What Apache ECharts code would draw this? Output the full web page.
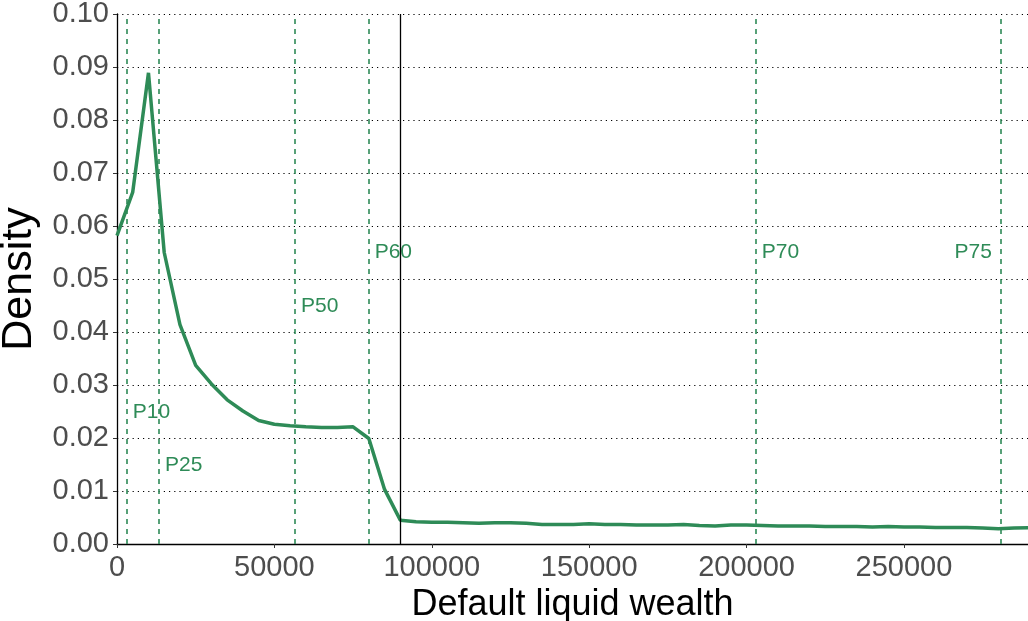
<!DOCTYPE html>
<html>
<head>
<meta charset="utf-8">
<script src="https://cdn.jsdelivr.net/npm/echarts@6/dist/echarts.min.js"></script>
<style>
    html, body { margin: 0; padding: 0; background: #fff; }
    #chart { width: 1028px; height: 621px; }
</style>
</head>
<body>
<div id="chart"></div>
<script>
const lineColor = '#2e8b57';

// density curve
const wealth = [
    0, 5000, 10000, 15000, 20000, 25000, 30000, 35000, 40000, 45000,
    50000, 55000, 60000, 65000, 70000, 75000, 80000, 85000, 90000, 95000,
    100000, 105000, 110000, 115000, 120000, 125000, 130000, 135000, 140000, 145000,
    150000, 155000, 160000, 165000, 170000, 175000, 180000, 185000, 190000, 195000,
    200000, 205000, 210000, 215000, 220000, 225000, 230000, 235000, 240000, 245000,
    250000, 255000, 260000, 265000, 270000, 275000, 280000, 285000, 290000
];
const density = [
    0.0582, 0.0664, 0.0889, 0.0550, 0.0414, 0.0337, 0.0302, 0.0272, 0.0251, 0.0233,
    0.0226, 0.0223, 0.0221, 0.0220, 0.0220, 0.0221, 0.0199, 0.0103, 0.0045, 0.0042,
    0.0041, 0.0041, 0.0040, 0.0039, 0.0040, 0.0040, 0.0039, 0.0037, 0.0037, 0.0037,
    0.0038, 0.0037, 0.0037, 0.0036, 0.0036, 0.0036, 0.0037, 0.0035, 0.0034, 0.0036,
    0.0036, 0.0035, 0.0034, 0.0034, 0.0034, 0.0033, 0.0033, 0.0033, 0.0032, 0.0033,
    0.0032, 0.0032, 0.0031, 0.0031, 0.0031, 0.0030, 0.0029, 0.0030, 0.0031
];

// percentile markers
const pctNames = ['P10', 'P25', 'P50', 'P60', 'P70', 'P75'];
const pctValues = [3080, 13340, 56540, 79950, 202900, 280800];
const pctLabelY = [0.0248, 0.0148, 0.0448, 0.0550, 0.0550, 0.0550];
const pctLabelSide = ['right', 'right', 'right', 'right', 'right', 'left'];
const cutoff = 90000;

const xTicks = [0, 50000, 100000, 150000, 200000, 250000];
const xMax = 289400;

const chart = echarts.init(document.getElementById('chart'));

const markLines = pctValues.map(function (v) {
    return {xAxis: v};
});
markLines.push({
    xAxis: cutoff,
    lineStyle: {color: '#000', type: 'solid', width: 1.3}
});

const labelPoints = pctNames.map(function (name, i) {
    return {
        name: name,
        value: [pctValues[i], pctLabelY[i]],
        label: {
            position: pctLabelSide[i],
            distance: pctLabelSide[i] === 'left' ? 9 : 6
        }
    };
});

const option = {
    animation: false,
    textStyle: {fontFamily: 'Liberation Sans, Arial, sans-serif'},
    grid: {
        left: 117,
        right: 0,
        top: 14,
        bottom: 77,
        outerBoundsMode: 'none'
    },
    xAxis: {
        type: 'value',
        min: 0,
        max: xMax,
        name: 'Default liquid wealth',
        nameLocation: 'middle',
        nameGap: 37,
        nameTextStyle: {color: '#000', fontSize: 36},
        axisLine: {lineStyle: {color: '#000', width: 1.3}},
        axisTick: {show: true, length: 4, customValues: xTicks, lineStyle: {color: '#333'}},
        axisLabel: {
            color: '#4d4d4d',
            fontSize: 29,
            margin: 9,
            customValues: xTicks,
            formatter: function (value) {
                return String(value);
            }
        },
        splitLine: {show: false}
    },
    yAxis: {
        type: 'value',
        min: 0,
        max: 0.1,
        interval: 0.01,
        name: 'Density',
        nameLocation: 'middle',
        nameGap: 76,
        nameMoveOverlap: false,
        nameTextStyle: {color: '#000', fontSize: 43},
        axisLine: {show: true, lineStyle: {color: '#000', width: 1.3}},
        axisTick: {show: true, length: 4, lineStyle: {color: '#333'}},
        axisLabel: {
            color: '#4d4d4d',
            fontSize: 29,
            margin: 8,
            formatter: function (value) {
                return value.toFixed(2);
            }
        },
        splitLine: {
            show: true,
            lineStyle: {color: '#000', type: [1.2, 4], width: 1.2}
        }
    },
    series: [
        {
            name: 'Density',
            type: 'line',
            data: wealth.map(function (w, i) {
                return [w, density[i]];
            }),
            showSymbol: false,
            lineStyle: {color: lineColor, width: 3.5},
            z: 3,
            markLine: {
                silent: true,
                symbol: ['none', 'none'],
                label: {show: false},
                lineStyle: {color: lineColor, type: [5, 5], width: 1.6, opacity: 1},
                data: markLines
            }
        },
        {
            name: 'Percentiles',
            type: 'scatter',
            symbolSize: 0,
            silent: true,
            itemStyle: {opacity: 1},
            data: labelPoints,
            label: {
                show: true,
                formatter: '{b}',
                color: lineColor,
                opacity: 1,
                fontSize: 21
            }
        }
    ]
};
chart.setOption(option);

window.addEventListener('resize', function () {
    chart.resize();
});
</script>
</body>
</html>
